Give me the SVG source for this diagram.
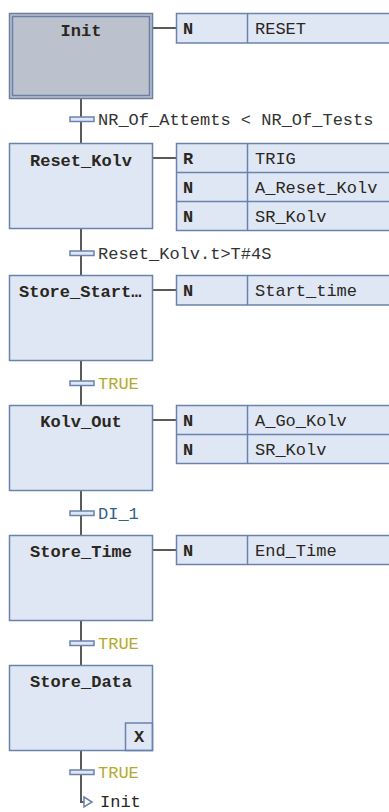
<svg xmlns="http://www.w3.org/2000/svg" width="389" height="812" viewBox="0 0 389 812">
  <style>
    .step { fill: #dfe7f5; stroke: #6a82ad; stroke-width: 1.5; }
    .init { fill: #bcc2cd; stroke: #6a7fa6; stroke-width: 1.5; }
    .act { fill: #dfe7f5; stroke: #6a82ad; stroke-width: 1.5; }
    .wire { stroke: #5a5a5a; stroke-width: 2; fill: none; }
    .bar { fill: #dfe7f5; stroke: #6a82ad; stroke-width: 1.5; }
    .title { font-family: "Liberation Mono", "Courier New", monospace; font-size: 17px; font-weight: bold; fill: #2b2620; }
    .txt { font-family: "Liberation Mono", "Courier New", monospace; font-size: 17px; fill: #2b2620; }
    .q { font-family: "Liberation Mono", "Courier New", monospace; font-size: 17px; font-weight: bold; fill: #2b2620; }
    .cond { font-family: "Liberation Mono", "Courier New", monospace; font-size: 17px; fill: #333333; }
    .true { fill: #b5aa2c; }
    .var { fill: #2f6388; }
  </style>

  <!-- main flow line and action links -->
  <g id="connectors">
    <line class="wire" x1="81" y1="99" x2="81" y2="143"/>
    <line class="wire" x1="81" y1="229" x2="81" y2="275"/>
    <line class="wire" x1="81" y1="361" x2="81" y2="405"/>
    <line class="wire" x1="81" y1="491" x2="81" y2="535"/>
    <line class="wire" x1="81" y1="620" x2="81" y2="665"/>
    <polyline class="wire" points="81,750 81,802 84,802"/>
    <line class="wire" x1="153" y1="28" x2="176" y2="28"/>
    <line class="wire" x1="153" y1="158" x2="176" y2="158"/>
    <line class="wire" x1="153" y1="290" x2="176" y2="290"/>
    <line class="wire" x1="153" y1="420" x2="176" y2="420"/>
    <line class="wire" x1="153" y1="550" x2="176" y2="550"/>
  </g>

  <!-- transitions -->
  <g id="t1">
    <rect class="bar" x="70" y="117" width="24" height="4.5"/>
    <text class="cond" x="98" y="125">NR_Of_Attemts &lt; NR_Of_Tests</text>
  </g>
  <g id="t2">
    <rect class="bar" x="70" y="251" width="24" height="4.5"/>
    <text class="cond" x="98" y="259">Reset_Kolv.t&gt;T#4S</text>
  </g>
  <g id="t3">
    <rect class="bar" x="70" y="381" width="24" height="4.5"/>
    <text class="cond true" x="98" y="389">TRUE</text>
  </g>
  <g id="t4">
    <rect class="bar" x="70" y="511" width="24" height="4.5"/>
    <text class="cond var" x="98" y="519">DI_1</text>
  </g>
  <g id="t5">
    <rect class="bar" x="70" y="641" width="24" height="4.5"/>
    <text class="cond true" x="98" y="649">TRUE</text>
  </g>
  <g id="t6">
    <rect class="bar" x="70" y="770" width="24" height="4.5"/>
    <text class="cond true" x="98" y="778">TRUE</text>
  </g>

  <!-- jump back to Init -->
  <g id="jump">
    <polygon points="84,797 92,802 84,807" fill="#ffffff" stroke="#6a82ad" stroke-width="1.5"/>
    <text class="txt" x="100" y="807">Init</text>
  </g>

  <!-- steps -->
  <g id="step-init">
    <rect class="init" x="9.5" y="13.5" width="143" height="85"/>
    <rect fill="none" stroke="#6a7fa6" stroke-width="1.5" x="12.5" y="16.5" width="137" height="79"/>
    <text class="title" x="81" y="36" text-anchor="middle">Init</text>
  </g>
  <g id="step-reset-kolv">
    <rect class="step" x="9.5" y="143.5" width="143" height="85"/>
    <text class="title" x="81" y="166" text-anchor="middle">Reset_Kolv</text>
  </g>
  <g id="step-store-start">
    <rect class="step" x="9.5" y="275.5" width="143" height="85"/>
    <text class="title" x="19" y="297">Store_Start…</text>
  </g>
  <g id="step-kolv-out">
    <rect class="step" x="9.5" y="405.5" width="143" height="85"/>
    <text class="title" x="81" y="427" text-anchor="middle">Kolv_Out</text>
  </g>
  <g id="step-store-time">
    <rect class="step" x="9.5" y="535.5" width="143" height="85"/>
    <text class="title" x="81" y="557" text-anchor="middle">Store_Time</text>
  </g>
  <g id="step-store-data">
    <rect class="step" x="9.5" y="665.5" width="143" height="85"/>
    <text class="title" x="81" y="687" text-anchor="middle">Store_Data</text>
    <rect fill="none" stroke="#6a82ad" stroke-width="1.5" x="125.5" y="723" width="27" height="27.5"/>
    <text class="q" x="139" y="742" text-anchor="middle">X</text>
  </g>

  <!-- action blocks -->
  <g id="actions-init">
    <rect class="act" x="176.5" y="13.5" width="230" height="29.5"/>
    <line stroke="#6a82ad" stroke-width="1.5" x1="247.5" y1="13.5" x2="247.5" y2="43"/>
    <text class="q" x="183" y="34">N</text>
    <text class="txt" x="255" y="34">RESET</text>
  </g>
  <g id="actions-reset-kolv">
    <rect class="act" x="176.5" y="143.5" width="230" height="87"/>
    <line stroke="#6a82ad" stroke-width="1.5" x1="176.5" y1="172.5" x2="406" y2="172.5"/>
    <line stroke="#6a82ad" stroke-width="1.5" x1="176.5" y1="201.5" x2="406" y2="201.5"/>
    <line stroke="#6a82ad" stroke-width="1.5" x1="247.5" y1="143.5" x2="247.5" y2="230.5"/>
    <text class="q" x="183" y="164">R</text>
    <text class="txt" x="255" y="164">TRIG</text>
    <text class="q" x="183" y="193">N</text>
    <text class="txt" x="255" y="193">A_Reset_Kolv</text>
    <text class="q" x="183" y="222">N</text>
    <text class="txt" x="255" y="222">SR_Kolv</text>
  </g>
  <g id="actions-store-start">
    <rect class="act" x="176.5" y="275.5" width="230" height="29.5"/>
    <line stroke="#6a82ad" stroke-width="1.5" x1="247.5" y1="275.5" x2="247.5" y2="305"/>
    <text class="q" x="183" y="296">N</text>
    <text class="txt" x="255" y="296">Start_time</text>
  </g>
  <g id="actions-kolv-out">
    <rect class="act" x="176.5" y="405.5" width="230" height="58"/>
    <line stroke="#6a82ad" stroke-width="1.5" x1="176.5" y1="434.5" x2="406" y2="434.5"/>
    <line stroke="#6a82ad" stroke-width="1.5" x1="247.5" y1="405.5" x2="247.5" y2="463.5"/>
    <text class="q" x="183" y="426">N</text>
    <text class="txt" x="255" y="426">A_Go_Kolv</text>
    <text class="q" x="183" y="455">N</text>
    <text class="txt" x="255" y="455">SR_Kolv</text>
  </g>
  <g id="actions-store-time">
    <rect class="act" x="176.5" y="535.5" width="230" height="29"/>
    <line stroke="#6a82ad" stroke-width="1.5" x1="247.5" y1="535.5" x2="247.5" y2="564.5"/>
    <text class="q" x="183" y="556">N</text>
    <text class="txt" x="255" y="556">End_Time</text>
  </g>
</svg>
